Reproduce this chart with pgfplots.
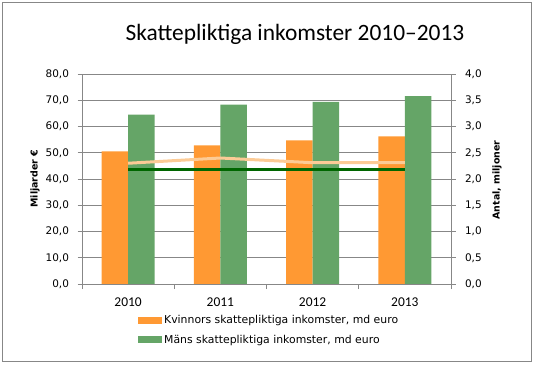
\documentclass[border=0pt]{standalone}
\usepackage{fontspec}
\setmainfont{Carlito}
\newfontfamily\vfont{DejaVu Sans}
\usepackage{pgfplots}
\pgfplotsset{compat=1.18}
\definecolor{barorange}{HTML}{FF9933}
\definecolor{bargreen}{HTML}{65A567}
\definecolor{lineorange}{HTML}{FCCB96}
\definecolor{linegreen}{HTML}{006600}
\definecolor{gridgray}{HTML}{878787}
\begin{document}
\begin{tikzpicture}
\path (0bp,0bp) rectangle (534bp,365bp);
\draw[gridgray, line width=1bp] (2.5bp,3.5bp) rectangle (531.5bp,362bp);
\begin{axis}[
  at={(82bp,81bp)}, anchor=south west,
  scale only axis, width=369bp, height=210bp,
  xmin=-0.5, xmax=3.5, ymin=0, ymax=80,
  axis y line*=left, axis x line*=bottom,
  axis line style={gridgray, line width=0.75bp, -},
  ybar=0pt, bar width=26.5bp,
  ytick={0,10,...,80},
  ymajorgrids, grid style={gridgray, line width=0.75bp},
  tick align=outside, major tick length=4.5bp,
  tick style={gridgray, line width=0.75bp},
  xtick={0,1,2,3}, xticklabels={2010,2011,2012,2013},
  xtick style={draw=none},
  extra x ticks={-0.5,0.5,1.5,2.5,3.5}, extra x tick labels={},
  extra x tick style={xtick style={draw=gridgray, line width=0.75bp}, major tick length=5bp},
  xticklabel style={font=\fontsize{13.5}{15}\selectfont, yshift=-6bp},
  yticklabel style={font=\vfont\fontsize{10.5}{12}\selectfont, xshift=-5bp},
  /pgf/number format/.cd, fixed, fixed zerofill, precision=1, use comma, assume math mode=true,
  /pgfplots/.cd,
  ylabel={Miljarder €},
  ylabel style={font=\vfont\bfseries\fontsize{9.5}{11}\selectfont, at={(axis description cs:-0.1274,0.502)}, anchor=center},
  legend style={draw=none, fill=none, at={(axis description cs:0.1436,-0.129)}, anchor=north west,
    font=\vfont\fontsize{10.9}{13}\selectfont, row sep=6bp},
  legend cell align=left,
  legend image code/.code={\fill[#1] (0bp,-3.5bp) rectangle (24bp,3.5bp);},
]
\addplot[fill=barorange, draw=none] coordinates {(0,50.5)(1,52.8)(2,54.7)(3,56.2)};
\addlegendentry{Kvinnors skattepliktiga inkomster, md euro}
\addplot[fill=bargreen, draw=none] coordinates {(0,64.5)(1,68.3)(2,69.4)(3,71.6)};
\addlegendentry{Mäns skattepliktiga inkomster, md euro}
\end{axis}
\begin{axis}[
  at={(82bp,81bp)}, anchor=south west,
  scale only axis, width=369bp, height=210bp,
  xmin=-0.5, xmax=3.5, ymin=0, ymax=4,
  axis y line*=right, axis x line=none,
  axis line style={gridgray, line width=0.75bp, -},
  ytick={0,0.5,...,4},
  tick align=outside, major tick length=4.5bp,
  tick style={gridgray, line width=0.75bp},
  yticklabel style={font=\vfont\fontsize{10.5}{12}\selectfont, xshift=6bp},
  /pgf/number format/.cd, fixed, fixed zerofill, precision=1, use comma, assume math mode=true,
  /pgfplots/.cd,
  ylabel={Antal, miljoner},
  ylabel style={font=\vfont\bfseries\fontsize{9.5}{11}\selectfont, at={(axis description cs:1.1247,0.495)}, anchor=center},
  title={Skattepliktiga inkomster 2010–2013},
  title style={font=\fontsize{23.5}{28}\selectfont, at={(axis description cs:0.577,1.162)}, anchor=center},
]
\addplot[lineorange, line width=3bp] coordinates {(0,2.30)(1,2.40)(2,2.31)(3,2.31)};
\addplot[linegreen, line width=3bp] coordinates {(0,2.19)(1,2.19)(2,2.19)(3,2.19)};
\end{axis}
\end{tikzpicture}
\end{document}
